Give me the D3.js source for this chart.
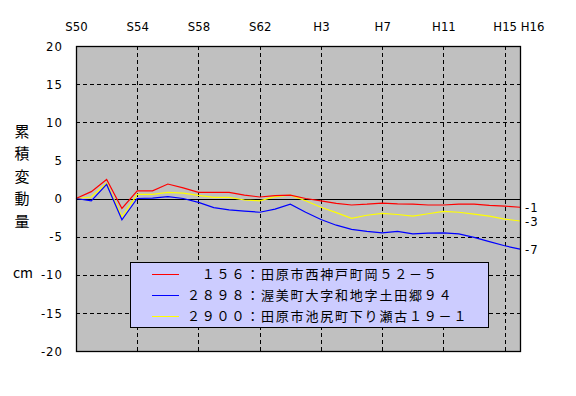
<!DOCTYPE html>
<html>
<head>
<meta charset="utf-8">
<script src="https://cdn.jsdelivr.net/npm/d3@7"></script>
<style>
  body { margin: 0; background: #fff; }
  svg { display: block; }
  .tick text { font-family: "Liberation Sans Narrow", "DejaVu Sans Condensed", sans-serif; font-size: 13px; fill: #000; }
</style>
</head>
<body>
<svg width="576" height="396"></svg>
<script>
// data, one value per year S50 (1975) .. H16 (2004)
var years = d3.range(1975, 2005);

var red = [0, 0.9, 2.5, -1.3, 1.0, 1.0, 1.9, 1.4, 0.8, 0.8,
	0.8, 0.45, 0.2, 0.37, 0.45, 0, -0.3, -0.65, -0.85, -0.75,
	-0.6, -0.7, -0.75, -0.85, -0.85, -0.75, -0.75, -0.9, -1.0, -1.15];

var blue = [0, -0.3, 1.85, -2.8, 0, 0.05, 0.25, 0, -0.5, -1.2,
	-1.5, -1.65, -1.8, -1.4, -0.75, -1.8, -2.75, -3.5, -4.05, -4.3,
	-4.5, -4.3, -4.65, -4.55, -4.5, -4.65, -5.1, -5.65, -6.2, -6.65];

var yellow = [0, 0.2, 2.0, -2.4, 0.55, 0.55, 0.8, 0.7, 0.4, 0.15,
	0.15, -0.2, -0.3, 0.25, 0.45, -0.3, -1.15, -1.85, -2.6, -2.2,
	-1.95, -2.1, -2.3, -2.0, -1.7, -1.8, -2.05, -2.3, -2.7, -2.95];

var xTickYears = [1975, 1979, 1983, 1987, 1991, 1995, 1999, 2003, 2004];
var xTickLabels = ["S50", "S54", "S58", "S62", "H3", "H7", "H11", "H15", "H16"];
var yTicks = [-20, -15, -10, -5, 0, 5, 10, 15, 20];

var seriesNames = ["\u3000１５６：田原市西神戸町岡５２－５",
	"２８９８：渥美町大字和地字土田郷９４",
	"２９００：田原市池尻町下り瀬古１９－１"];
var seriesColors = ["#ff0000", "#0000ff", "#ffff00"];
var endLabels = ["-1", "-7", "-3"];

var yTitle = ["累", "積", "変", "動", "量"];

// plot box  (NB: "top" is taken by window.top, so prefixed names)
var boxL = 76, boxR = 520, boxT = 46, boxB = 351;

var svg = d3.select("svg");
var x = d3.scaleLinear().domain([1975, 2004]).range([boxL, boxR]);
var y = d3.scaleLinear().domain([-20, 20]).range([boxB, boxT]);

svg.append("rect")
	.attr("x", boxL).attr("y", boxT)
	.attr("width", boxR - boxL).attr("height", boxB - boxT)
	.attr("fill", "#c0c0c0");

// dashed grid
svg.append("g").selectAll("line")
	.data(xTickYears.slice(1, 8))
	.join("line")
	.attr("x1", d => Math.round(x(d)) + 0.5).attr("x2", d => Math.round(x(d)) + 0.5)
	.attr("y1", boxT).attr("y2", boxB)
	.attr("stroke", "#000").attr("stroke-dasharray", "4,3");

svg.append("g").selectAll("line")
	.data(yTicks.filter(d => d != 0 && d != 20 && d != -20))
	.join("line")
	.attr("x1", boxL).attr("x2", boxR)
	.attr("y1", d => Math.round(y(d)) + 0.5).attr("y2", d => Math.round(y(d)) + 0.5)
	.attr("stroke", "#000").attr("stroke-dasharray", "4,3");

svg.append("line")
	.attr("x1", boxL).attr("x2", boxR)
	.attr("y1", Math.round(y(0)) + 0.5).attr("y2", Math.round(y(0)) + 0.5)
	.attr("stroke", "#000");

// axes
var topAxis = svg.append("g")
	.attr("transform", "translate(0," + boxT + ")")
	.call(d3.axisTop(x).tickValues(xTickYears).tickSize(0).tickPadding(15)
		.tickFormat((d, i) => xTickLabels[i]));
topAxis.select(".domain").remove();
topAxis.selectAll(".tick text").attr("dx", (d, i) => i == 8 ? 12 : 0);

// plain hyphen as in the original, not the unicode minus
var leftAxis = svg.append("g")
	.attr("transform", "translate(" + (boxL - 13) + ",0)")
	.call(d3.axisLeft(y).tickValues(yTicks).tickSize(0).tickPadding(0)
		.tickFormat(d => String(d)));
leftAxis.select(".domain").remove();
leftAxis.selectAll(".tick text").attr("letter-spacing", 1);

// series
var line = d3.line().x((d, i) => x(years[i])).y(d => y(d));
var allSeries = [red, blue, yellow];

svg.append("g").selectAll("path")
	.data([yellow, blue, red])
	.join("path")
	.attr("d", line)
	.attr("fill", "none")
	.attr("stroke", d => seriesColors[allSeries.indexOf(d)])
	.attr("stroke-width", 1.2);

svg.append("rect")
	.attr("x", boxL + 0.5).attr("y", boxT + 0.5)
	.attr("width", boxR - boxL).attr("height", boxB - boxT)
	.attr("fill", "none").attr("stroke", "#000").attr("stroke-width", 1.3);

// end value labels
svg.append("g").selectAll("text")
	.data(allSeries)
	.join("text")
	.attr("x", boxR + 5)
	.attr("y", d => y(d[d.length - 1]))
	.attr("dy", "0.35em")
	.attr("letter-spacing", 1)
	.style("font-family", "'Liberation Sans Narrow', 'DejaVu Sans Condensed', sans-serif")
	.style("font-size", "13px")
	.text((d, i) => endLabels[i]);

// legend
var legend = svg.append("g");
legend.append("rect")
	.attr("x", 130.5).attr("y", 262.5)
	.attr("width", 358).attr("height", 65)
	.attr("fill", "#ccccff").attr("stroke", "#000");

var rows = legend.selectAll("g")
	.data(seriesNames)
	.join("g")
	.attr("transform", (d, i) => "translate(0," + (274 + i * 21) + ")");
rows.append("line")
	.attr("x1", 152).attr("x2", 179)
	.attr("y1", 0.5).attr("y2", 0.5)
	.attr("stroke", (d, i) => seriesColors[i]);
rows.append("text")
	.attr("x", 187)
	.attr("dy", "0.38em")
	.attr("letter-spacing", 1.8)
	.style("font-family", "'Noto Sans CJK JP', sans-serif")
	.style("font-size", "13px")
	.text(d => d);

// axis title, written top to bottom
svg.append("g").selectAll("text")
	.data(yTitle)
	.join("text")
	.attr("x", 22)
	.attr("y", (d, i) => 131 + i * 22.5)
	.attr("dy", "0.38em")
	.attr("text-anchor", "middle")
	.style("font-family", "'Noto Sans CJK JP', sans-serif")
	.style("font-size", "15px")
	.text(d => d);

svg.append("text")
	.attr("x", 23).attr("y", 273)
	.attr("dy", "0.35em")
	.attr("text-anchor", "middle")
	.style("font-family", "'Noto Sans CJK JP', sans-serif")
	.style("font-size", "14px")
	.text("cm");
</script>
</body>
</html>
